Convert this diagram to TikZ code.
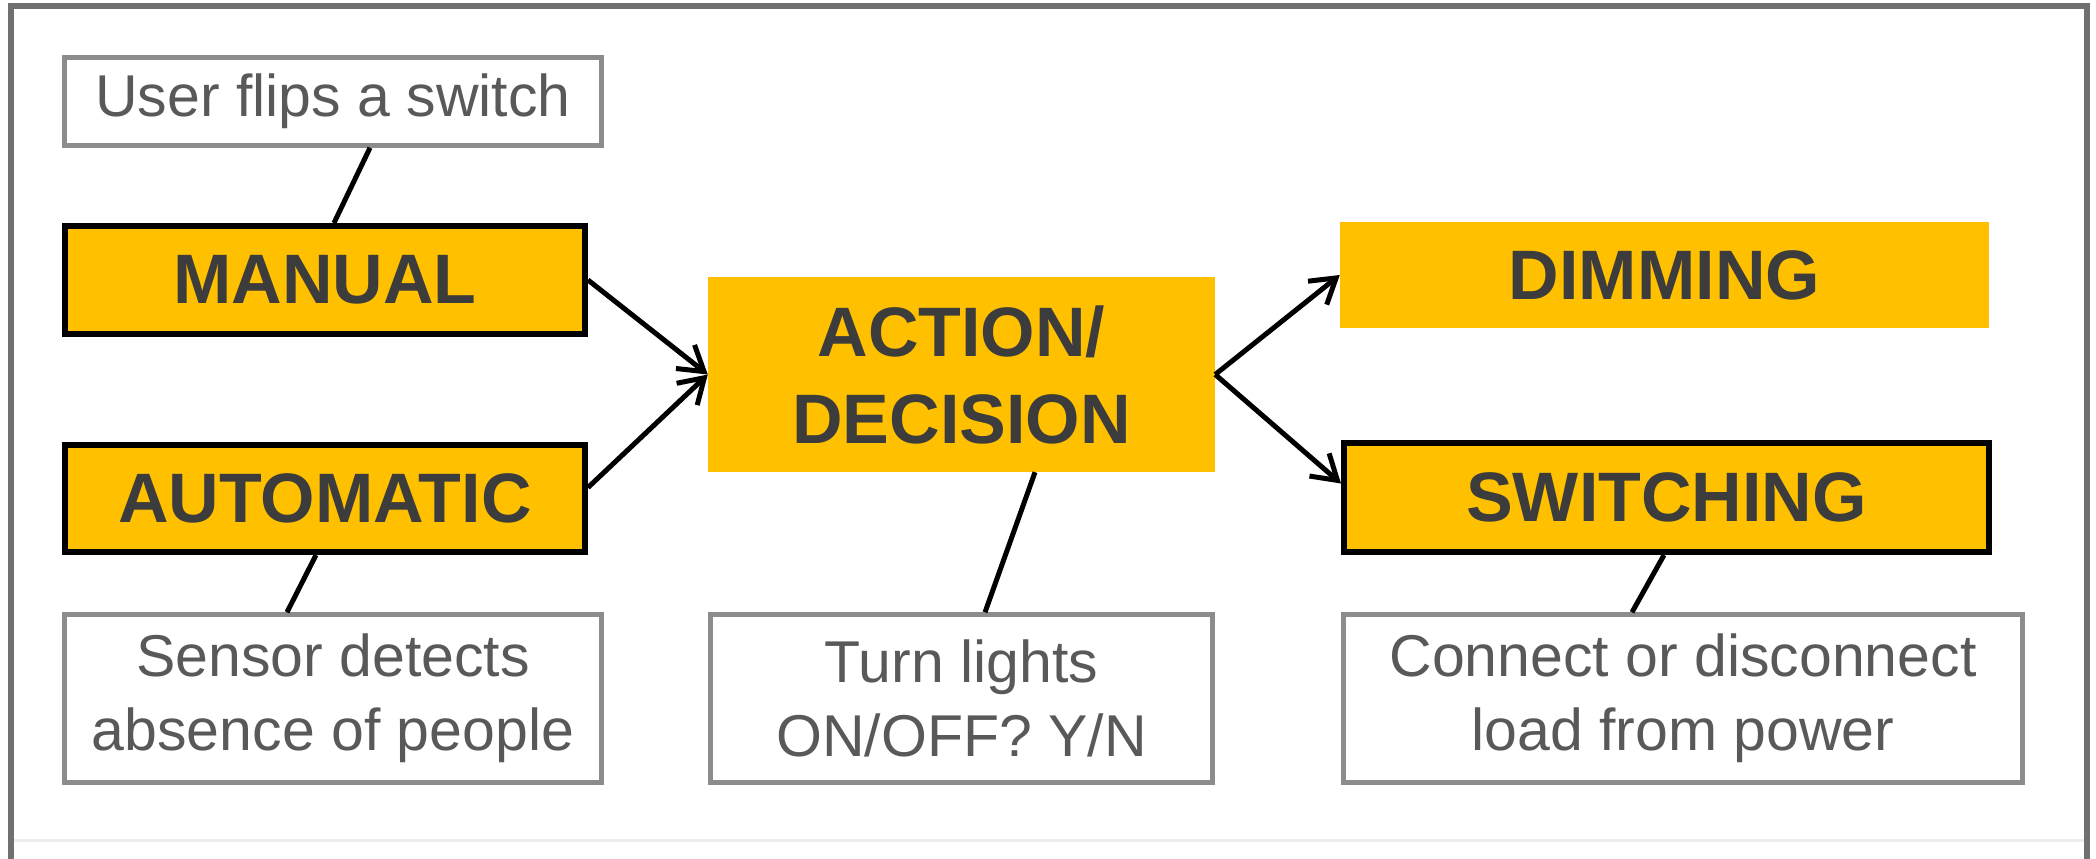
\documentclass[tikz,border=0pt]{standalone}
\usepackage{fontspec}
\setmainfont{Liberation Sans}
\usetikzlibrary{arrows.meta}
\definecolor{gold}{HTML}{FFC000}
\definecolor{boldtext}{HTML}{3C3C3C}
\definecolor{normtext}{HTML}{595959}
\definecolor{boxgray}{HTML}{8C8C8C}
\definecolor{framegray}{HTML}{707070}
\definecolor{faintgray}{HTML}{EDEDED}
\begin{document}
\begin{tikzpicture}[x=1pt,y=-1pt,
  goldbox/.style={fill=gold, inner sep=0pt, font=\fontsize{70}{87}\selectfont\bfseries, text=boldtext, align=center},
  goldframed/.style={goldbox, draw=black, line width=6pt},
  notebox/.style={draw=boxgray, line width=4.5pt, fill=white, inner sep=0pt, font=\fontsize{59}{74}\selectfont, text=normtext, align=center},
  link/.style={draw=black, line width=5pt},
  flow/.style={link, -{Straight Barb[length=24pt,width=30pt]}}]
\useasboundingbox (0,0) rectangle (2096,859);
\fill[white] (0,0) rectangle (2096,859);
% outer frame
\draw[faintgray, line width=3pt] (11,840) -- (2087,840);
\draw[framegray, line width=6.5pt] (11,859) -- (11,6) -- (2087,6) -- (2087,859);

% nodes
\node[notebox, minimum width=537pt, minimum height=88pt] (user) at (333,101.5) {User flips a switch};
\node[goldframed, minimum width=520pt, minimum height=108pt] (manual) at (325,280) {MANUAL};
\node[goldframed, minimum width=520pt, minimum height=107pt] (auto) at (325,498.5) {AUTOMATIC};
\node[notebox, minimum width=537pt, minimum height=168pt] (sensor) at (333,698.5) {Sensor detects\\absence of people};
\node[goldbox, minimum width=507pt, minimum height=195pt] (action) at (961.5,374.5) {ACTION/\\DECISION};
\node[notebox, minimum width=502pt, minimum height=168pt] (turn) at (961.5,698.5) {Turn lights\\ON/OFF? Y/N};
\node[goldbox, minimum width=649pt, minimum height=106pt] (dim) at (1664.5,275) {DIMMING};
\node[goldframed, minimum width=645pt, minimum height=109pt] (sw) at (1666.5,497.5) {SWITCHING};
\node[notebox, minimum width=679pt, minimum height=168pt] (connect) at (1683,698.5) {Connect or disconnect\\load from power};

% plain connectors
\draw[link] ([xshift=37pt]user.south) -- ([xshift=9pt]manual.north);
\draw[link] ([xshift=-9pt]auto.south) -- ([xshift=-46pt]sensor.north);
\draw[link] ([xshift=73.5pt]action.south) -- ([xshift=23.5pt]turn.north);
\draw[link] ([xshift=-2.5pt]sw.south) -- ([xshift=-51pt]connect.north);

% arrows
\draw[flow] (manual.east) -- (action.west);
\draw[flow] ([yshift=11pt]auto.east) -- (action.west);
\draw[flow] (action.east) -- (dim.west);
\draw[flow] (action.east) -- ([yshift=14pt]sw.west);
\end{tikzpicture}
\end{document}
